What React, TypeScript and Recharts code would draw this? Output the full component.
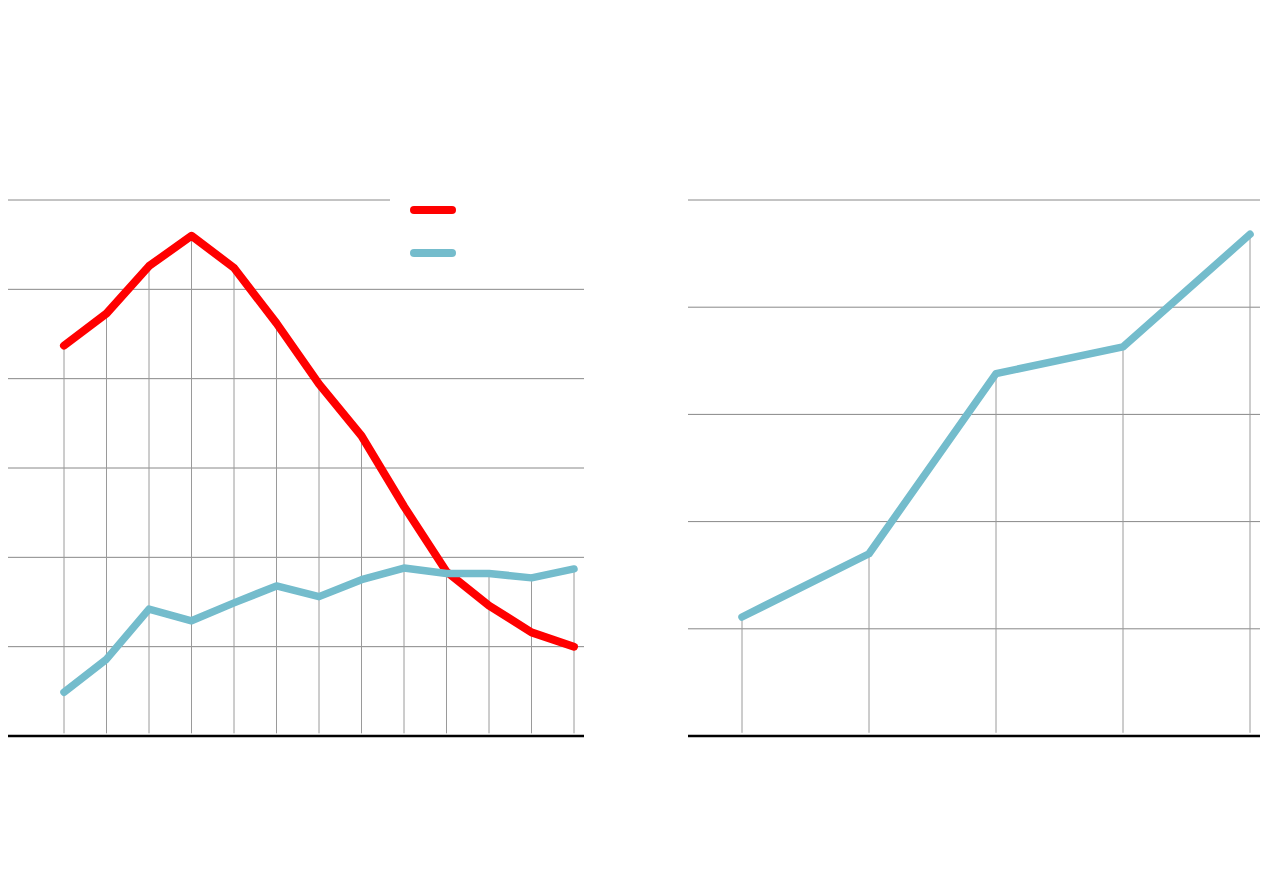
import React from 'react';
import { LineChart, Line, XAxis, YAxis, CartesianGrid, ReferenceLine, Legend } from 'recharts';

// left panel: 13 periods, two series
const periods = ['1', '2', '3', '4', '5', '6', '7', '8', '9', '10', '11', '12', '13'];
const seriesA = [43.7, 47.3, 52.6, 56.0, 52.4, 46.2, 39.4, 33.6, 25.7, 18.4, 14.6, 11.6, 10.0];
const seriesB = [4.9, 8.6, 14.2, 12.9, 14.9, 16.8, 15.6, 17.5, 18.8, 18.2, 18.2, 17.7, 18.7];
const leftTicks = [0, 10, 20, 30, 40, 50, 60];

// right panel: 5 periods, one series
const stages = ['1', '2', '3', '4', '5'];
const seriesC = [11.1, 17.0, 33.8, 36.3, 46.8];
const rightTicks = [0, 10, 20, 30, 40, 50];

const RED = '#ff0000';
const BLUE = '#74bccc';
const GRID = '#888888';
const DROP = '#9a9a9a';

const leftData = periods.map((p, i) => ({ p, a: seriesA[i], b: seriesB[i] }));
const rightData = stages.map((s, i) => ({ s, c: seriesC[i] }));

const LegendSwatches = (props: any) => (
  <svg width={194} height={80}>
    {(props.payload || []).map((item: any, i: number) => (
      <line
        key={`lg-${i}`}
        x1={24}
        x2={62}
        y1={18 + i * 43}
        y2={18 + i * 43}
        stroke={item.color}
        strokeWidth={8}
        strokeLinecap="round"
      />
    ))}
  </svg>
);

export default function App() {
  return (
    <div style={{ position: 'relative', width: 1280, height: 892, margin: -8, background: '#fff' }}>
      <div style={{ position: 'absolute', left: 0, top: 0 }}>
        <LineChart width={640} height={892} data={leftData} margin={{ top: 200, right: 56, bottom: 156, left: 7 }}>
          <CartesianGrid vertical={false} stroke={GRID} />
          <XAxis dataKey="p" hide padding={{ left: 57, right: 10 }} />
          <YAxis hide domain={[0, 60]} ticks={leftTicks} />
          {leftData.map((d) => (
            <ReferenceLine
              key={`drop-${d.p}`}
              segment={[{ x: d.p, y: 0.3 }, { x: d.p, y: Math.max(d.a, d.b) }]}
              stroke={DROP}
              strokeWidth={1}
            />
          ))}
          <ReferenceLine y={0} stroke="#000" strokeWidth={2.5} />
          <Legend
            layout="horizontal"
            verticalAlign="middle"
            align="center"
            content={LegendSwatches}
            wrapperStyle={{ top: 192, left: 390, width: 194, height: 80, background: '#fff' }}
          />
          <Line dataKey="a" stroke={RED} strokeWidth={8} strokeLinecap="round" strokeLinejoin="round" dot={false} isAnimationActive={false} />
          <Line dataKey="b" stroke={BLUE} strokeWidth={7.5} strokeLinecap="round" strokeLinejoin="round" dot={false} isAnimationActive={false} />
        </LineChart>
      </div>
      <div style={{ position: 'absolute', left: 640, top: 0 }}>
        <LineChart width={640} height={892} data={rightData} margin={{ top: 200, right: 20, bottom: 156, left: 48 }}>
          <CartesianGrid vertical={false} stroke={GRID} />
          <XAxis dataKey="s" hide padding={{ left: 54, right: 10 }} />
          <YAxis hide domain={[0, 50]} ticks={rightTicks} />
          {rightData.map((d) => (
            <ReferenceLine
              key={`drop-${d.s}`}
              segment={[{ x: d.s, y: 0.3 }, { x: d.s, y: d.c }]}
              stroke={DROP}
              strokeWidth={1}
            />
          ))}
          <ReferenceLine y={0} stroke="#000" strokeWidth={2.5} />
          <Line dataKey="c" stroke={BLUE} strokeWidth={7.5} strokeLinecap="round" strokeLinejoin="round" dot={false} isAnimationActive={false} />
        </LineChart>
      </div>
    </div>
  );
}
